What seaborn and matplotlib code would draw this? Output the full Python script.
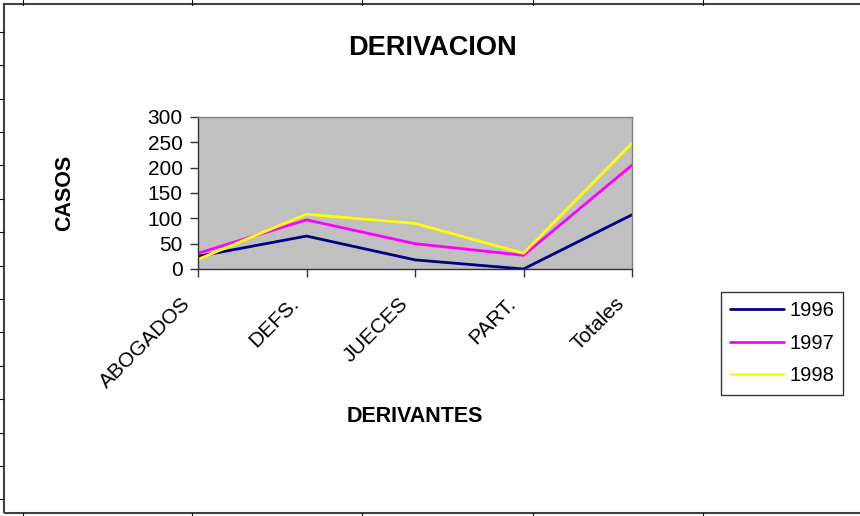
import matplotlib.pyplot as plt
import matplotlib.transforms as mtransforms
import pandas as pd
import seaborn as sns
from matplotlib.lines import Line2D

categorias = ["ABOGADOS", "DEFS.", "JUECES", "PART.", "Totales"]
casos_1996 = [25, 65, 18, 0, 107]
casos_1997 = [31, 97, 50, 27, 205]
casos_1998 = [19, 108, 90, 31, 248]
anios = ["1996", "1997", "1998"]
colores = ["#000080", "#FF00FF", "#FFFF00"]

df = pd.DataFrame({
    "pos": list(range(len(categorias))) * 3,
    "casos": casos_1996 + casos_1997 + casos_1998,
    "anio": [a for a in anios for _ in categorias],
})

sns.set_style("white")
plt.rcParams["font.family"] = ["Liberation Sans", "DejaVu Sans"]
plt.rcParams["text.color"] = "black"
plt.rcParams["axes.labelcolor"] = "black"

fig = plt.figure(figsize=(8.6, 5.16), dpi=100)
ax = fig.add_axes([198 / 860, 1 - 269 / 516, 434 / 860, 152 / 516])
ax.set_facecolor("#C0C0C0")

sns.lineplot(data=df, x="pos", y="casos", hue="anio", palette=colores,
             linewidth=2, ax=ax, legend=False)

ax.set_xlim(0, 4)
ax.set_ylim(0, 300)
ax.set_yticks(range(0, 301, 50))
ax.set_xticks(range(len(categorias)))
ax.set_xticklabels(categorias, rotation=45, ha="right", rotation_mode="anchor")
ax.tick_params(axis="both", direction="out", length=6, width=1, color="#333333",
               labelsize=15, labelcolor="black", bottom=True, left=True)
ax.tick_params(axis="x", pad=12)
ax.tick_params(axis="y", pad=5)
# shift rotated labels to the left like the original
shift = mtransforms.ScaledTranslation(-17 / 100, 0, fig.dpi_scale_trans)
for lbl in ax.get_xticklabels():
    lbl.set_transform(lbl.get_transform() + shift)
for s in ax.spines.values():
    s.set_color("#808080")
    s.set_linewidth(1)
ax.spines["left"].set_color("#333333")
ax.spines["bottom"].set_color("#333333")

ax.set_xlabel("")
ax.set_ylabel("")
fig.text(432 / 860, 1 - 48 / 516, "DERIVACION", ha="center", va="center",
         fontsize=19.5, fontweight="bold")
fig.text(65 / 860, 1 - 193 / 516, "CASOS", ha="center", va="center",
         rotation=90, fontsize=15.5, fontweight="bold")
fig.text(415 / 860, 1 - 416 / 516, "DERIVANTES", ha="center", va="center",
         fontsize=15.5, fontweight="bold")

handles = [Line2D([], [], color=c, lw=2) for c in colores]
leg = fig.legend(handles, anios, loc="upper left",
                 bbox_to_anchor=(721 / 860, 1 - 292 / 516),
                 frameon=True, fancybox=False, fontsize=14.5,
                 handlelength=2.7, handletextpad=0.25, borderpad=0.45,
                 borderaxespad=0, labelspacing=0.68)
leg.get_frame().set_edgecolor("black")
leg.get_frame().set_linewidth(1)

# spreadsheet frame and cell marks
frame = plt.Rectangle((4 / 860, 3 / 516), 1.0, 509 / 516, transform=fig.transFigure,
                      fill=False, edgecolor="#404040", linewidth=1.5)
fig.add_artist(frame)
for x in [23, 192, 362, 533, 703]:
    fig.add_artist(Line2D([x / 860, x / 860], [1, 1 - 5 / 516],
                          transform=fig.transFigure, color="black", lw=0.8))
    fig.add_artist(Line2D([x / 860, x / 860], [0, 3 / 516],
                          transform=fig.transFigure, color="black", lw=0.8))
for y in [32, 65, 99, 132, 165, 199, 232, 266, 299, 332, 366, 399, 433, 466, 499]:
    fig.add_artist(Line2D([0, 4 / 860], [1 - y / 516, 1 - y / 516],
                          transform=fig.transFigure, color="black", lw=0.8))

fig.savefig("out.png", dpi=100)
